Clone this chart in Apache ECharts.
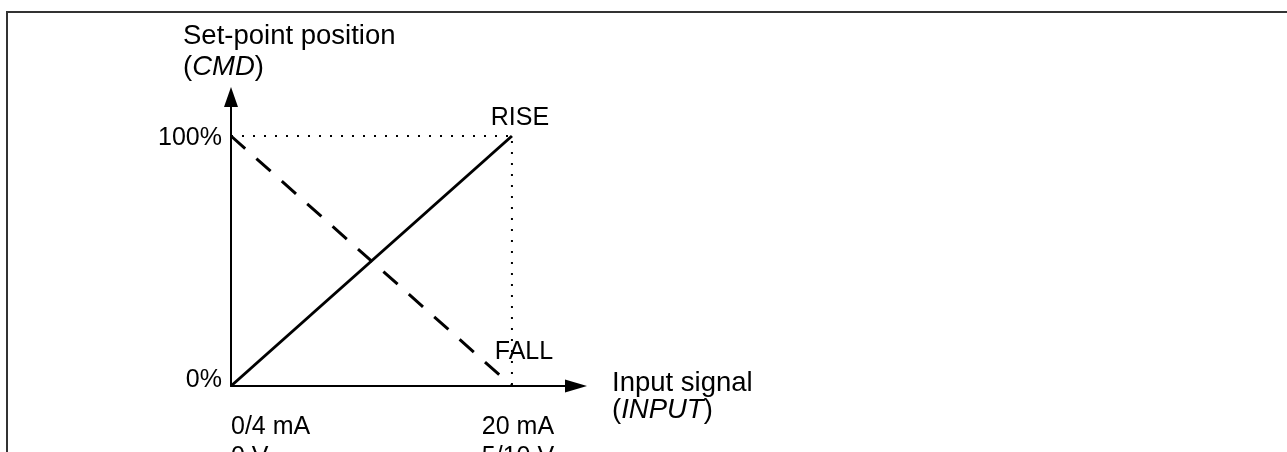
<!DOCTYPE html>
<html><head><meta charset="utf-8">
<script src="https://cdn.jsdelivr.net/npm/echarts@6/dist/echarts.min.js"></script>
<style>html,body{margin:0;padding:0;background:#fff}#c{width:1287px;height:452px}</style>
</head><body><div id="c"></div>
<script>
// Input signal as % of span (0 = 0/4 mA, 0 V ; 100 = 20 mA, 5/10 V)
const inputPct = [0, 100];
const riseCmd = [0, 100];
const fallCmd = [100, 0];
const guideX = [0, 100, 100];
const guideY = [100, 100, 0];
const xTickValues = [0, 100];
const xTickLabels = [['0/4 mA', '0 V'], ['20 mA', '5/10 V']];
const yTickValues = [0, 100];
const yTickLabels = ['0%', '100%'];
const seriesNames = ['RISE', 'FALL'];
const yNameLines = ['Set-point position', 'CMD'];
const xNameLines = ['Input signal', 'INPUT'];

const FONT = "'Liberation Sans', Arial, Helvetica, sans-serif";
const FS = 25;
const NFS = 27.5;
const xMax = 122.8, yMax = 115.6;

const chart = echarts.init(document.getElementById('c'), null, {renderer: 'canvas'});

function pairs(xs, ys) { return xs.map((x, i) => [x, ys[i]]); }

const riseData = pairs(inputPct, riseCmd).map((p, i, a) => i === a.length - 1
  ? {value: p, label: {show: true, formatter: seriesNames[0], position: 'top', distance: 5, padding: [0, 0, 0, 16]}}
  : p);
const fallData = pairs(inputPct, fallCmd).map((p, i, a) => i === a.length - 1
  ? {value: p, label: {show: true, formatter: seriesNames[1], position: 'top', distance: 21, padding: [0, 0, 0, 24]}}
  : p);

const baseText = {fontFamily: FONT, fontSize: FS, color: '#000'};
const nameText = {fontFamily: FONT, fontSize: NFS, color: '#000'};

chart.setOption({
  animation: false,
  backgroundColor: '#fff',
  textStyle: {fontFamily: FONT},
  graphic: [{
    type: 'rect', silent: true, z: -1,
    shape: {x: 7, y: 12, width: 1400, height: 600},
    style: {fill: 'none', stroke: '#333', lineWidth: 2}
  }],
  grid: {left: 231, right: 711, top: 97, bottom: 66, containLabel: false, outerBoundsMode: 'none'},
  xAxis: {
    type: 'value', min: 0, max: xMax, interval: 100,
    axisLine: {show: true, onZero: false, symbol: ['none', 'triangle'], symbolSize: [13, 22],
      lineStyle: {color: '#000', width: 2}},
    axisTick: {show: false}, splitLine: {show: false},
    axisLabel: {
      show: true, margin: 26, showMaxLabel: false, align: 'center', alignMinLabel: 'left',
      formatter: function (v) {
        const i = xTickValues.indexOf(v);
        if (i < 0) return '';
        const st = i === 0 ? 'a' : 'b';
        return xTickLabels[i].map(s => '{' + st + '|' + s + '}').join('\n');
      },
      rich: {
        a: Object.assign({lineHeight: 30}, baseText),
        b: Object.assign({lineHeight: 30, padding: [0, 0, 0, 12]}, baseText)
      }
    },
    name: '{n|' + xNameLines[0] + '}\n{n|(}{i|' + xNameLines[1] + '}{n|)}',
    nameLocation: 'end', nameGap: 36,
    nameTextStyle: {
      align: 'left', verticalAlign: 'middle', padding: [22, 0, 0, 0],
      rich: {
        n: Object.assign({lineHeight: 27}, nameText),
        i: Object.assign({lineHeight: 27, fontStyle: 'italic'}, nameText)
      }
    }
  },
  yAxis: {
    type: 'value', min: 0, max: yMax, interval: 100,
    axisLine: {show: true, onZero: false, symbol: ['none', 'triangle'], symbolSize: [14, 20],
      lineStyle: {color: '#000', width: 2}},
    axisTick: {show: false}, splitLine: {show: false},
    axisLabel: {
      show: true, margin: 9, showMaxLabel: false,
      formatter: function (v) {
        const i = yTickValues.indexOf(v);
        if (i < 0) return '';
        return '{' + (i === 0 ? 'lo' : 'hi') + '|' + yTickLabels[i] + '}';
      },
      rich: {
        lo: Object.assign({padding: [0, 0, 12, 0]}, baseText),
        hi: Object.assign({padding: [4, 0, 0, 0]}, baseText)
      }
    },
    name: '{n|' + yNameLines[0] + '}\n{n|(}{i|' + yNameLines[1] + '}{n|)}',
    nameLocation: 'end', nameGap: 14,
    nameTextStyle: {
      align: 'left', verticalAlign: 'bottom', padding: [0, 0, 0, -48],
      rich: {
        n: Object.assign({lineHeight: 31}, nameText),
        i: Object.assign({lineHeight: 31, fontStyle: 'italic'}, nameText)
      }
    }
  },
  series: [
    {
      name: 'guide', type: 'line', data: pairs(guideX, guideY), symbol: 'none', silent: true, clip: false,
      lineStyle: {color: '#000', width: 2, type: [2, 9]}, z: 1
    },
    {
      name: seriesNames[0], type: 'line', data: riseData, symbol: 'circle', symbolSize: 0.01, showSymbol: true,
      clip: false, itemStyle: {color: '#000'},
      lineStyle: {color: '#000', width: 3, type: 'solid'},
      label: {fontFamily: FONT, fontSize: FS, color: '#000'}, labelLayout: {hideOverlap: false}, z: 3
    },
    {
      name: seriesNames[1], type: 'line', data: fallData, symbol: 'circle', symbolSize: 0.01, showSymbol: true,
      clip: false, itemStyle: {color: '#000'},
      lineStyle: {color: '#000', width: 3, type: [19, 15]},
      label: {fontFamily: FONT, fontSize: FS, color: '#000'}, labelLayout: {hideOverlap: false}, z: 3
    }
  ]
});
</script></body></html>
